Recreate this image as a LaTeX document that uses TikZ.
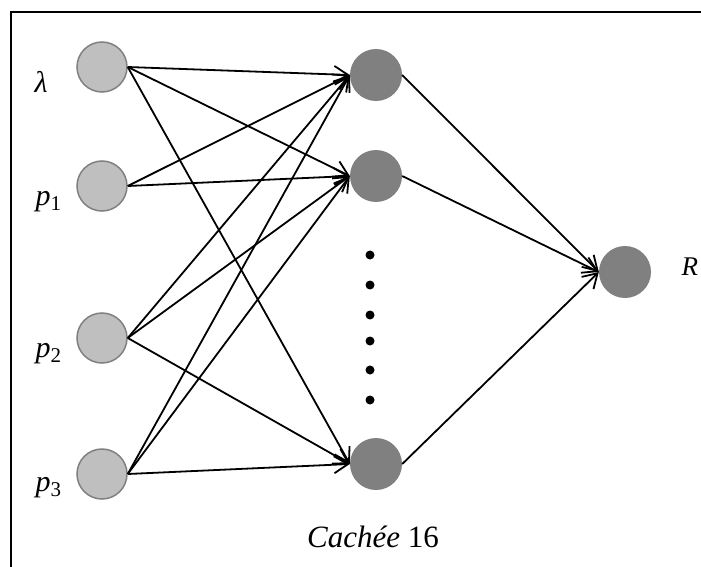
\documentclass[tikz,border=0pt]{standalone}
\usepackage{fontspec}
\setmainfont{Liberation Serif}
\usetikzlibrary{arrows.meta}

\begin{document}
\begin{tikzpicture}[
		x=1pt, y=-1pt,
		entree/.style={circle,draw=black!50,fill=black!25,line width=1.5pt,
		inner sep=0pt,minimum size=50pt},
		cachee/.style={circle,fill=black!50,inner sep=0pt,minimum size=52pt},
		point/.style={circle,fill=black,inner sep=0pt,minimum size=9pt},
		lien/.style={-{Straight Barb[length=14pt,width=17pt,line width=1.8pt]}, line width=1.8pt},
		etiq/.style={anchor=base west,font=\fontsize{30}{34}\selectfont\itshape}
		]
		\useasboundingbox (0,0) rectangle (701,567);
		\draw[line width=2.5pt] (11,567) -- (11,12) -- (701,12);
		% couche d'entree
		\node[entree] (l)  at (102,67)  {};
		\node[entree] (p1) at (102,186) {};
		\node[entree] (p2) at (102,338) {};
		\node[entree] (p3) at (102,474) {};
		\node[etiq] (tl)  at (31,93)  {λ};
		\node[etiq] (tp1) at (32,205) {p\textsubscript{\upshape 1}};
		\node[etiq] (tp2) at (32,357) {p\textsubscript{\upshape 2}};
		\node[etiq] (tp3) at (32,491) {p\textsubscript{\upshape 3}};
		% couche cachee
		\node[cachee] (h1) at (376,75)  {};
		\node[cachee] (h2) at (376,176) {};
		\node[cachee] (h3) at (376,464) {};
		\foreach \y [count=\i] in {255,285,315,341,370,400}
			\node[point] (d\i) at (370,\y) {};
		% sortie
		\node[cachee] (r) at (625,272) {};
		\node[etiq, font=\fontsize{27}{30}\selectfont\itshape] (tr) at (678,275) {R};
		\node[font=\fontsize{31}{35}\selectfont, anchor=base] (titre) at (373,547)
			{\textit{Cachée} 16};
		\foreach \a/\b in {l/h1,l/h2,l/h3,p1/h1,p1/h2,p2/h1,p2/h2,p2/h3,p3/h1,p3/h2,p3/h3}
			\draw[lien] (\a.east) -- (\b.west);
		\foreach \a in {h1,h2,h3}
			\draw[lien] (\a.east) -- (r.west);
	\end{tikzpicture}
\end{document}
